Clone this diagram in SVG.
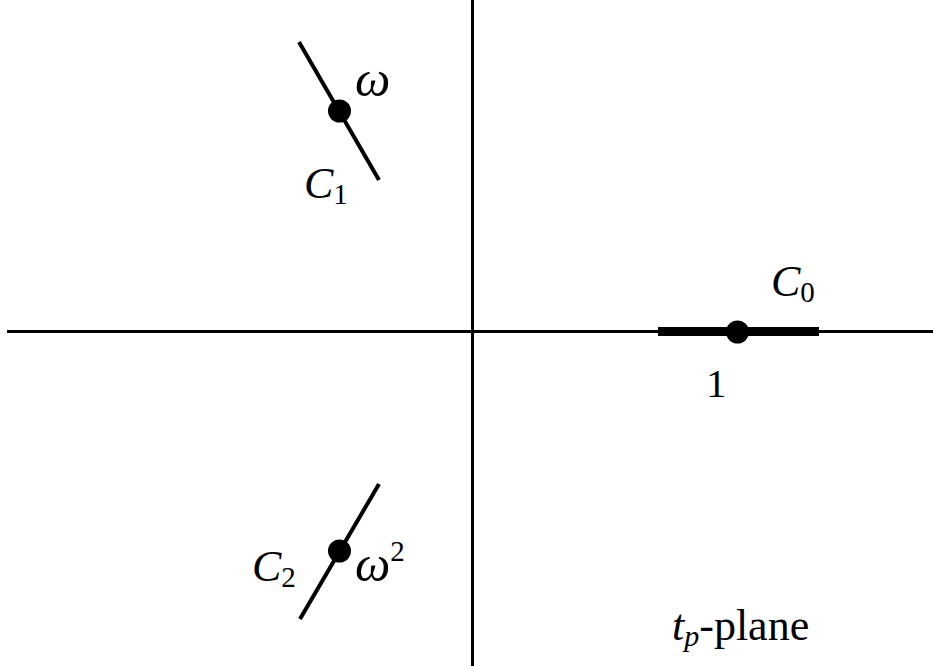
<svg xmlns="http://www.w3.org/2000/svg" width="933" height="666" viewBox="0 0 933 666">
<style>
.ax{stroke:#000;stroke-width:3;fill:none}
.cut{stroke:#000;stroke-width:4;stroke-linecap:butt;fill:none}
.dot{fill:#000}
text{font-family:"Liberation Serif","DejaVu Serif",serif;fill:#000}
.it{font-style:italic}
</style>
<rect width="933" height="666" fill="#fff"/>
<g id="connectors">
<line id="yaxis" class="ax" x1="472.5" y1="0" x2="472.5" y2="666"/>
<line id="xaxis" class="ax" x1="7" y1="331.5" x2="933" y2="331.5"/>
</g>
<g id="C0">
<line class="cut" x1="658" y1="331.5" x2="819" y2="331.5" style="stroke-width:9"/>
<circle class="dot" cx="737.5" cy="332" r="11.5"/>
<text x="771" y="296" font-size="44" class="it">C<tspan font-size="29" font-style="normal" dy="6">0</tspan></text>
<text x="706" y="397" font-size="41">1</text>
</g>
<g id="C1">
<line class="cut" x1="299" y1="42" x2="379" y2="180"/>
<circle class="dot" cx="339.5" cy="111" r="11.5"/>
<text x="355" y="96" font-size="50" class="it">ω</text>
<text x="304" y="198" font-size="44" class="it">C<tspan font-size="29" font-style="normal" dy="6">1</tspan></text>
</g>
<g id="C2">
<line class="cut" x1="379" y1="484" x2="300" y2="619"/>
<circle class="dot" cx="339.5" cy="551" r="11.5"/>
<text x="355" y="581" font-size="50" class="it">ω<tspan font-size="29" font-style="normal" dy="-20">2</tspan></text>
<text x="252" y="581" font-size="44" class="it">C<tspan font-size="29" font-style="normal" dy="6">2</tspan></text>
</g>
<g id="label">
<text x="672" y="640" font-size="44"><tspan class="it">t</tspan><tspan class="it" font-size="30" dy="6">p</tspan><tspan dy="-6">-plane</tspan></text>
</g>
</svg>
